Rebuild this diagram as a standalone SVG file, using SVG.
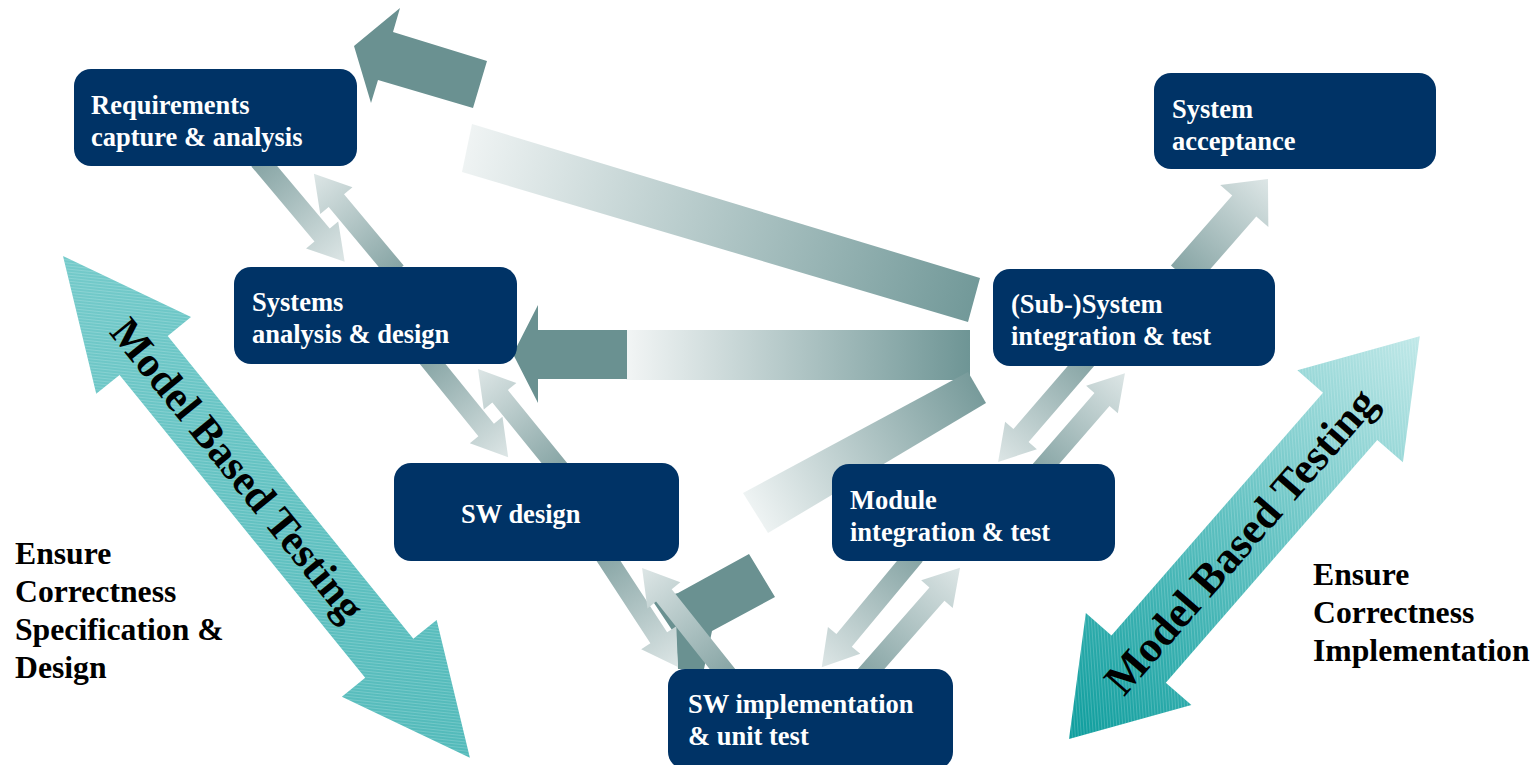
<svg xmlns="http://www.w3.org/2000/svg" width="1537" height="765" viewBox="0 0 1537 765">
<defs>
<style>
.box{fill:#003366;}
.nt{font-family:"Liberation Serif","Times New Roman",serif;font-weight:bold;font-size:26.5px;fill:#ffffff;}
.st{font-family:"Liberation Serif","Times New Roman",serif;font-weight:bold;font-size:31.7px;fill:#000000;}
.mbt{font-family:"Liberation Serif","Times New Roman",serif;font-weight:bold;fill:#000000;}
.dark{fill:#6a9191;}
.la{fill:url(#lg);}
.tex{fill:url(#stripes);}
</style>
<linearGradient id="lg" x1="0" y1="0" x2="1" y2="0">
<stop offset="0" stop-color="#86a4a4"/>
<stop offset="1" stop-color="#dde6e6"/>
</linearGradient>
<linearGradient id="gA" gradientUnits="userSpaceOnUse" x1="462" y1="148" x2="975" y2="300">
<stop offset="0" stop-color="#f0f4f4"/>
<stop offset="1" stop-color="#729999"/>
</linearGradient>
<linearGradient id="gB" gradientUnits="userSpaceOnUse" x1="627" y1="0" x2="970" y2="0">
<stop offset="0" stop-color="#f2f5f5"/>
<stop offset="1" stop-color="#6e9595"/>
</linearGradient>
<linearGradient id="gC" gradientUnits="userSpaceOnUse" x1="755" y1="513" x2="977" y2="388">
<stop offset="0" stop-color="#eef3f3"/>
<stop offset="1" stop-color="#789b9b"/>
</linearGradient>
<linearGradient id="gL" x1="0" y1="0" x2="1" y2="0">
<stop offset="0" stop-color="#74caca"/>
<stop offset="1" stop-color="#52baba"/>
</linearGradient>
<linearGradient id="gR" x1="0" y1="0" x2="1" y2="0">
<stop offset="0" stop-color="#0d9d9d"/>
<stop offset="0.5" stop-color="#5ec0c0"/>
<stop offset="1" stop-color="#c0e8e8"/>
</linearGradient>
<pattern id="stripes" patternUnits="userSpaceOnUse" width="3" height="3" patternTransform="rotate(45)">
<rect x="0" y="0" width="1" height="3" fill="#ffffff" fill-opacity="0.18"/>
</pattern>
</defs>
<rect x="0" y="0" width="1537" height="765" fill="#ffffff"/>

<g id="mbt-left">
<g transform="translate(63,256) rotate(50.96)">
<polygon fill="url(#gL)" points="0,0 128,-61 128,-31 518,-31 518,-61 646,0 518,61 518,31 128,31 128,61"/>
<polygon class="tex" points="0,0 128,-61 128,-31 518,-31 518,-61 646,0 518,61 518,31 128,31 128,61"/>
<text class="mbt" x="276" y="13" font-size="42.5" text-anchor="middle">Model Based Testing</text>
</g>
</g>
<g id="mbt-right">
<g transform="translate(1069,739) rotate(-48.94)">
<polygon fill="url(#gR)" points="0,0 106,-70 106,-36 428,-36 428,-70 534,0 428,70 428,36 106,36 106,70"/>
<polygon class="tex" points="0,0 106,-70 106,-36 428,-36 428,-70 534,0 428,70 428,36 106,36 106,70"/>
<text class="mbt" x="262" y="14" font-size="44" text-anchor="middle">Model Based Testing</text>
</g>
</g>

<g id="connectors">
<polygon fill="url(#gA)" points="472,124 980,278 968,322 462,172"/>
<polygon class="dark" points="354,46 400,8 393,32 487,61 473,108 378,80 371,103"/>
<rect x="626" y="330" width="344" height="50" fill="url(#gB)"/>
<polygon class="dark" points="513,354 538,305 538,330 627,330 627,379 538,379 538,403"/>
<polygon fill="url(#gC)" points="743,493 968,372 986,403 768,533"/>
<polygon class="dark" points="652,600 678,593 749,554 775,597 712,631 704,669 678,669 676,636"/>
<polygon class="la" transform="translate(259,160) rotate(49.9)" points="0,-10 98,-10 98,-21 133,0 98,21 98,10 0,10"/>
<polygon class="la" transform="translate(396,272) rotate(-129.9)" points="0,-10 93,-10 93,-21 128,0 93,21 93,10 0,10"/>
<polygon class="la" transform="translate(427,357) rotate(51)" points="0,-10 94,-10 94,-21 129,0 94,21 94,10 0,10"/>
<polygon class="la" transform="translate(560,470) rotate(-129.1)" points="0,-10 95,-10 95,-21 130,0 95,21 95,10 0,10"/>
<polygon class="la" transform="translate(604,554) rotate(56.8)" points="0,-10 100,-10 100,-21 135,0 100,21 100,10 0,10"/>
<polygon class="la" transform="translate(728,676) rotate(-128.5)" points="0,-10 103,-10 103,-21 138,0 103,21 103,10 0,10"/>
<polygon class="la" transform="translate(915,555) rotate(129.7)" points="0,-10 111,-10 111,-21 146,0 111,21 111,10 0,10"/>
<polygon class="la" transform="translate(865,676) rotate(-48.7)" points="0,-10 109,-10 109,-21 144,0 109,21 109,10 0,10"/>
<polygon class="la" transform="translate(1087,359) rotate(130.8)" points="0,-10 101,-10 101,-21 136,0 101,21 101,10 0,10"/>
<polygon class="la" transform="translate(1039,472) rotate(-49)" points="0,-10 96,-10 96,-21 131,0 96,21 96,10 0,10"/>
<polygon class="la" transform="translate(1183,276) rotate(-48.8)" points="0,-16 93,-16 93,-32 129,0 93,32 93,16 0,16"/>
</g>

<g id="node-requirements">
<rect class="box" x="74" y="69" width="283" height="97" rx="17"/>
<text class="nt" x="91" y="114">Requirements</text>
<text class="nt" x="91" y="146">capture &amp; analysis</text>
</g>
<g id="node-systems-analysis">
<rect class="box" x="234" y="267" width="283" height="97" rx="17"/>
<text class="nt" x="252" y="311">Systems</text>
<text class="nt" x="252" y="343">analysis &amp; design</text>
</g>
<g id="node-sw-design">
<rect class="box" x="394" y="463" width="285" height="98" rx="17"/>
<text class="nt" x="461" y="523">SW design</text>
</g>
<g id="node-sw-implementation">
<rect class="box" x="668" y="669" width="285" height="100" rx="17"/>
<text class="nt" x="688" y="713">SW implementation</text>
<text class="nt" x="688" y="745">&amp; unit test</text>
</g>
<g id="node-module-integration">
<rect class="box" x="832" y="464" width="283" height="97" rx="17"/>
<text class="nt" x="850" y="509">Module</text>
<text class="nt" x="850" y="541">integration &amp; test</text>
</g>
<g id="node-subsystem-integration">
<rect class="box" x="993" y="269" width="282" height="97" rx="17"/>
<text class="nt" x="1011" y="313">(Sub-)System</text>
<text class="nt" x="1011" y="345">integration &amp; test</text>
</g>
<g id="node-system-acceptance">
<rect class="box" x="1154" y="73" width="282" height="96" rx="17"/>
<text class="nt" x="1172" y="118">System</text>
<text class="nt" x="1172" y="150">acceptance</text>
</g>

<g id="label-left">
<text class="st" x="15" y="564">Ensure</text>
<text class="st" x="15" y="602">Correctness</text>
<text class="st" x="15" y="640">Specification &amp;</text>
<text class="st" x="15" y="678">Design</text>
</g>
<g id="label-right">
<text class="st" x="1313" y="585">Ensure</text>
<text class="st" x="1313" y="623">Correctness</text>
<text class="st" x="1313" y="661">Implementation</text>
</g>
</svg>
